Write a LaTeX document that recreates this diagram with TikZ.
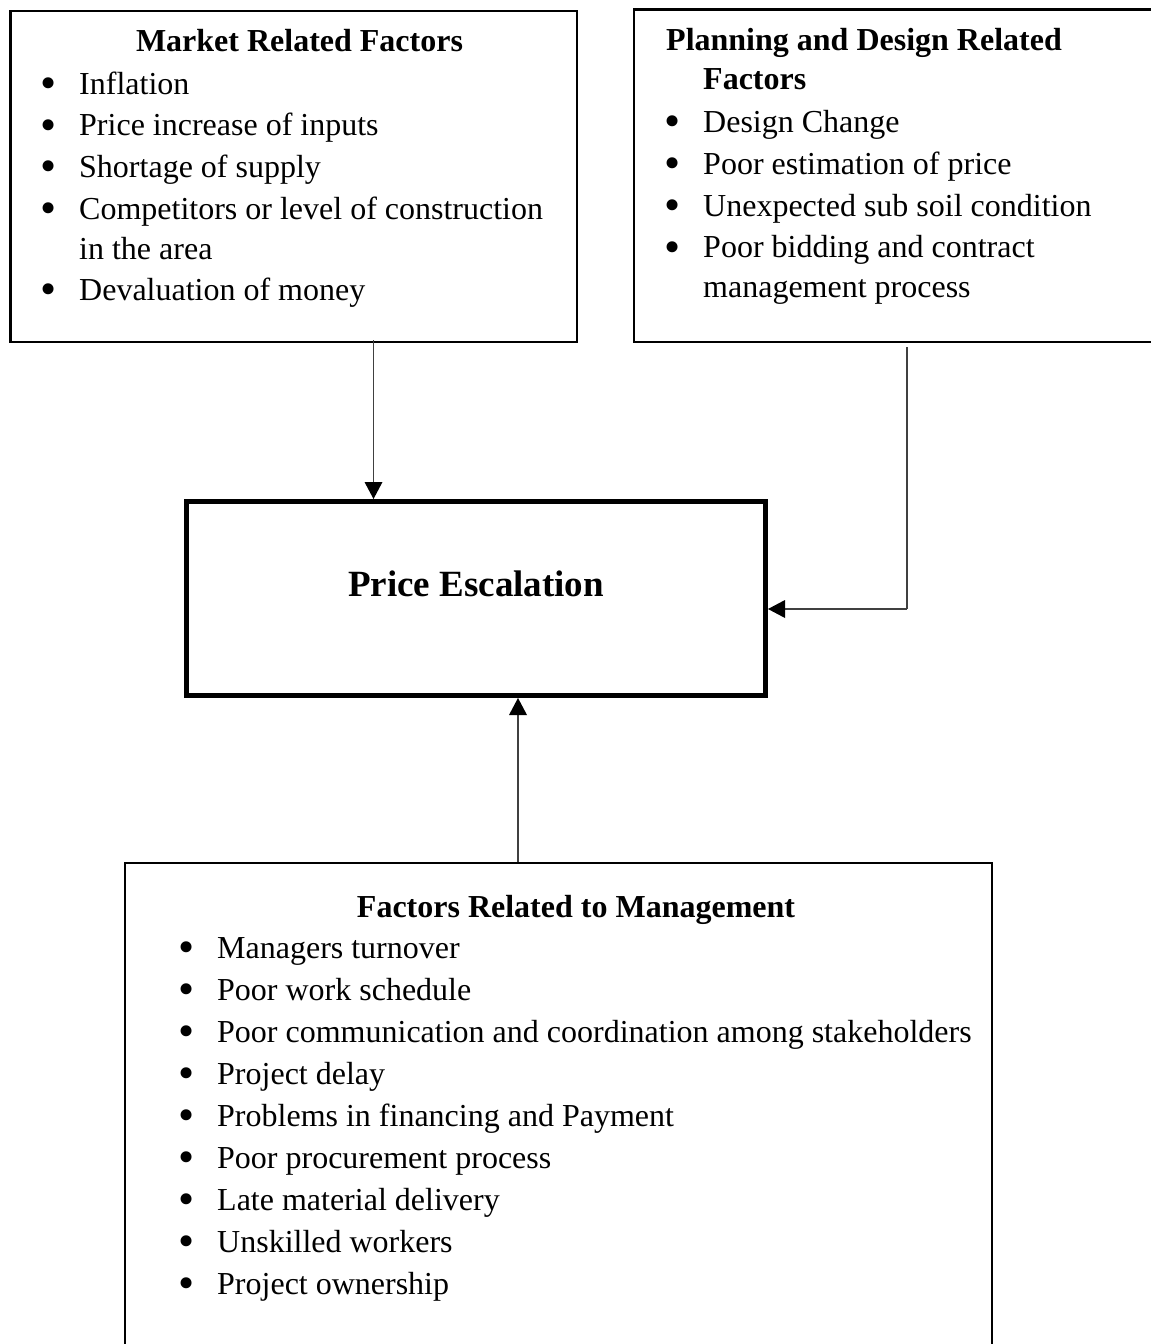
\documentclass[tikz,border=0pt]{standalone}
\usepackage{fontspec}
\setmainfont{Liberation Serif}
\usetikzlibrary{arrows.meta}
\tikzset{
  x=1pt, y=-1pt,
  boxline/.style={line width=2.5pt, black},
  thickbox/.style={draw, line width=5pt, black, inner sep=0pt},
  conn/.style={line width=1.4pt, draw=black!75, -{Triangle[length=17pt,width=18pt,line width=0pt,color=black]}},
  plainline/.style={line width=1.4pt, draw=black!75},
  txt/.style={anchor=base west, inner sep=0pt, font=\fontsize{32}{38}\selectfont},
  ttl/.style={anchor=base, inner sep=0pt, font=\fontsize{32}{38}\selectfont\bfseries},
  ttlw/.style={anchor=base west, inner sep=0pt, font=\fontsize{32}{38}\selectfont\bfseries},
}
\newcommand{\bul}{\makebox[37pt][l]{\hspace*{-2pt}\raisebox{-4.5pt}{\fontsize{46}{46}\selectfont\textbullet}}}
\begin{document}
\begin{tikzpicture}
\useasboundingbox (0,0) rectangle (1151,1344);
\fill[white] (0,0) rectangle (1151,1344);

% Market box
\node[draw, boxline, minimum width=566.5pt, minimum height=331pt, inner sep=0pt, anchor=north west] (market) at (9.25,9.75) {};
\node[ttl] (mt) at (299.5,51) {Market Related Factors};
\node[txt] (m1) at (42,94) {\bul Inflation};
\node[txt] (m2) at (42,135.5) {\bul Price increase of inputs};
\node[txt] (m3) at (42,177) {\bul Shortage of supply};
\node[txt] (m4) at (42,219) {\bul Competitors or level of construction};
\node[txt] (m4b) at (79,259) {in the area};
\node[txt] (m5) at (42,300) {\bul Devaluation of money};

% Planning box (right edge off the page)
\coordinate (pA) at (1153,9.5);
\coordinate (pB) at (634,9.5);
\coordinate (pC) at (634,342);
\coordinate (pD) at (1153,342);
\draw[boxline] (pA) -- (pB) -- (pC) -- (pD);
\node[ttlw] (pt) at (666,50) {Planning and Design Related};
\node[ttlw] (pt2) at (703,89) {Factors};
\node[txt] (p1) at (666,132) {\bul Design Change};
\node[txt] (p2) at (666,174) {\bul Poor estimation of price};
\node[txt] (p3) at (666,216) {\bul Unexpected sub soil condition};
\node[txt] (p4) at (666,257.5) {\bul Poor bidding and contract};
\node[txt] (p4b) at (703,297) {management process};

% Price escalation
\node[thickbox, minimum width=579pt, minimum height=194pt, anchor=north west] (price) at (184,499) {};
\node[anchor=base, inner sep=0pt, font=\fontsize{37}{44}\selectfont\bfseries] (pe) at (476,596) {Price Escalation};

% Management box (bottom edge off the page)
\coordinate (gA) at (125,1346);
\coordinate (gB) at (125,863);
\coordinate (gC) at (992,863);
\coordinate (gD) at (992,1346);
\draw[boxline] (gA) -- (gB) -- (gC) -- (gD);
\node[ttl] (gt) at (576,917) {Factors Related to Management};
\node[txt] (g1) at (180,958) {\bul Managers turnover};
\node[txt] (g2) at (180,1000) {\bul Poor work schedule};
\node[txt] (g3) at (180,1042) {\bul Poor communication and coordination among stakeholders};
\node[txt] (g4) at (180,1084) {\bul Project delay};
\node[txt] (g5) at (180,1126) {\bul Problems in financing and Payment};
\node[txt] (g6) at (180,1168) {\bul Poor procurement process};
\node[txt] (g7) at (180,1210) {\bul Late material delivery};
\node[txt] (g8) at (180,1252) {\bul Unskilled workers};
\node[txt] (g9) at (180,1294) {\bul Project ownership};

% Connectors
\coordinate (c1) at (373.5,340);
\draw[conn] (c1) -- (c1 |- price.north);
\coordinate (c2) at (907,347);
\coordinate (c3) at (907,609);
\draw[plainline] (c2) -- (c3);
\draw[conn] (c3) -- (c3 -| price.east);
\coordinate (c4) at (518,862);
\draw[conn] (c4) -- (c4 |- price.south);
\end{tikzpicture}
\end{document}
